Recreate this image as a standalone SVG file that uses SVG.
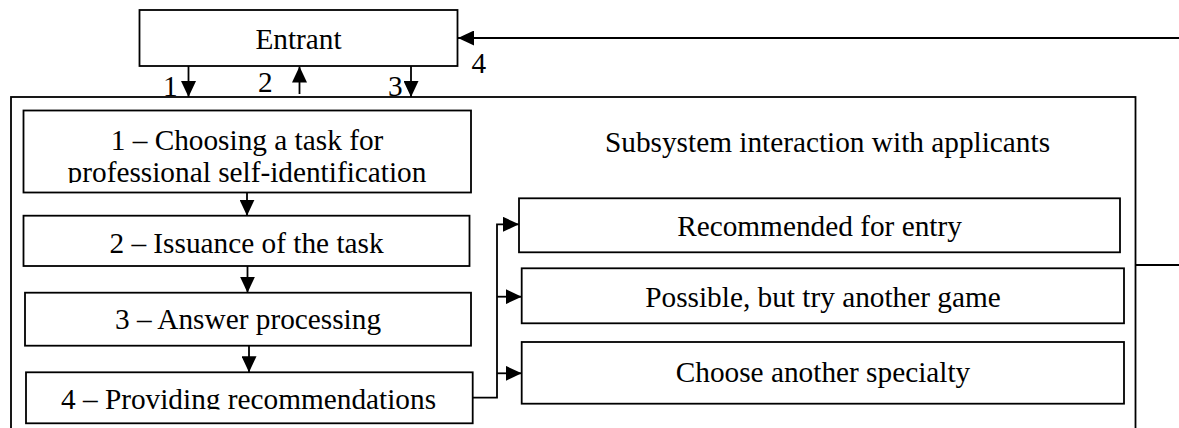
<svg xmlns="http://www.w3.org/2000/svg" width="1179" height="428" viewBox="0 0 1179 428">
<style>
.box{fill:#fff;stroke:#000;stroke-width:1.8}
.frame{fill:none;stroke:#000;stroke-width:1.8}
.t{font-family:"Liberation Serif","Times New Roman",serif;font-size:29.3px;fill:#000}
.c{text-anchor:middle}
.ln{fill:none;stroke:#000;stroke-width:1.8}
</style>
<defs>
<marker id="ah" markerUnits="userSpaceOnUse" markerWidth="16" markerHeight="15" refX="16" refY="7.5" orient="auto">
<path d="M0,0 L16,7.5 L0,15 z" fill="#000"/>
</marker>
<clipPath id="clip1"><rect x="0" y="100" width="1179" height="83"/></clipPath>
<clipPath id="clip4"><rect x="0" y="375" width="1179" height="34.5"/></clipPath>
</defs>

<g id="subsystem">
<rect class="frame" x="11" y="97" width="1124.5" height="400"/>
<text class="t c" x="827.5" y="152">Subsystem interaction with applicants</text>
</g>

<g id="entrant">
<rect class="box" x="139.5" y="10" width="318" height="56"/>
<text class="t c" x="298.5" y="49">Entrant</text>
</g>

<g id="step1">
<rect class="box" x="23.5" y="110.5" width="447.5" height="82"/>
<g clip-path="url(#clip1)">
<text class="t c" x="247" y="150">1 – Choosing a task for</text>
<text class="t c" x="247" y="182">professional self-identification</text>
</g>
</g>

<g id="step2">
<rect class="box" x="23.5" y="215.7" width="446" height="50.3"/>
<text class="t c" x="246.5" y="253.3">2 – Issuance of the task</text>
</g>

<g id="step3">
<rect class="box" x="25" y="292.7" width="446" height="53"/>
<text class="t c" x="248" y="329.3">3 – Answer processing</text>
</g>

<g id="step4">
<rect class="box" x="26" y="372.3" width="446.7" height="51"/>
<g clip-path="url(#clip4)">
<text class="t c" x="248.5" y="409">4 – Providing recommendations</text>
</g>
</g>

<g id="result1">
<rect class="box" x="519" y="198.3" width="601" height="54"/>
<text class="t c" x="819.5" y="236">Recommended for entry</text>
</g>

<g id="result2">
<rect class="box" x="521.7" y="268.3" width="602.3" height="55"/>
<text class="t c" x="823" y="306.7">Possible, but try another game</text>
</g>

<g id="result3">
<rect class="box" x="521.7" y="342" width="602.3" height="61.7"/>
<text class="t c" x="823" y="381.7">Choose another specialty</text>
</g>

<g id="connectors">
<path class="ln" d="M188.5,66 V97" marker-end="url(#ah)"/>
<path class="ln" d="M299.5,94 V66.5" marker-end="url(#ah)"/>
<path class="ln" d="M411,66 V97" marker-end="url(#ah)"/>
<path class="ln" d="M1135.5,265 H1195 V38 H458" marker-end="url(#ah)"/>
<path class="ln" d="M247,192.5 V215.7" marker-end="url(#ah)"/>
<path class="ln" d="M247.5,266 V292.7" marker-end="url(#ah)"/>
<path class="ln" d="M249,345.7 V372.3" marker-end="url(#ah)"/>
<path class="ln" d="M472.7,397.7 H497 V224.3 H519" marker-end="url(#ah)"/>
<path class="ln" d="M497,296.7 H521.7" marker-end="url(#ah)"/>
<path class="ln" d="M497,373.3 H521.7" marker-end="url(#ah)"/>
<text class="t" x="163" y="96">1</text>
<text class="t" x="258" y="91.7">2</text>
<text class="t" x="388" y="96">3</text>
<text class="t" x="471.5" y="73">4</text>
</g>
</svg>
